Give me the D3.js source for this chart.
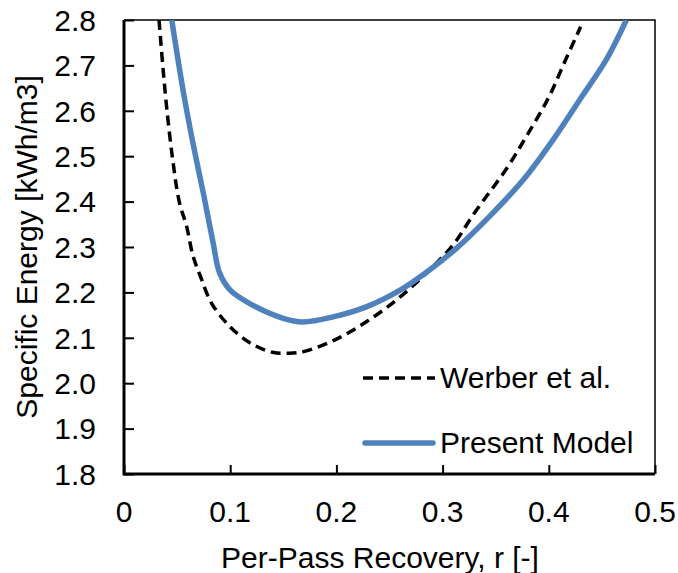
<!DOCTYPE html>
<html>
<head>
<meta charset="utf-8">
<script src="https://cdn.jsdelivr.net/npm/d3@7"></script>
<style>
  body { margin: 0; background: #fff; }
  svg text { font-family: "Liberation Sans", Arial, sans-serif; fill: #000; }
</style>
</head>
<body>
<div id="chart"></div>
<script>
// Werber et al. (dashed)
const werberR = [0.033, 0.0365, 0.0405, 0.046, 0.052, 0.059, 0.065, 0.072, 0.0825, 0.100, 0.120, 0.140, 0.155, 0.170, 0.200, 0.230, 0.260, 0.288, 0.310, 0.330, 0.360, 0.380, 0.400, 0.415, 0.430];
const werberE = [2.800, 2.700, 2.600, 2.490, 2.400, 2.345, 2.280, 2.235, 2.176, 2.124, 2.087, 2.068, 2.066, 2.070, 2.097, 2.138, 2.190, 2.250, 2.305, 2.375, 2.472, 2.548, 2.630, 2.708, 2.785];

// Present Model (solid blue)
const modelR = [0.045, 0.056, 0.065, 0.075, 0.084, 0.090, 0.100, 0.118, 0.150, 0.168, 0.197, 0.228, 0.260, 0.288, 0.313, 0.344, 0.376, 0.404, 0.429, 0.454, 0.473];
const modelE = [2.800, 2.640, 2.528, 2.415, 2.308, 2.243, 2.205, 2.176, 2.143, 2.135, 2.146, 2.168, 2.205, 2.250, 2.297, 2.367, 2.448, 2.536, 2.624, 2.712, 2.800];

const xTicks = [0, 0.1, 0.2, 0.3, 0.4, 0.5];
const yTicks = [1.8, 1.9, 2.0, 2.1, 2.2, 2.3, 2.4, 2.5, 2.6, 2.7, 2.8];
const legendLabels = ['Werber et al.', 'Present Model'];

const width = 678, height = 573;
const margin = {top: 20, right: 23, bottom: 99, left: 124};
const innerW = width - margin.left - margin.right;
const innerH = height - margin.top - margin.bottom;
const fontSize = 30;

const svg = d3.select('#chart').append('svg')
    .attr('width', width)
    .attr('height', height);

const g = svg.append('g')
    .attr('transform', `translate(${margin.left},${margin.top})`);

const x = d3.scaleLinear().domain([0, 0.5]).range([0, innerW]);
const y = d3.scaleLinear().domain([1.8, 2.8]).range([innerH, 0]);

g.append('clipPath').attr('id', 'plotClip')
    .append('rect').attr('width', innerW).attr('height', innerH);

// frame top/right
g.append('path')
    .attr('d', `M0,0H${innerW}V${innerH}`)
    .attr('fill', 'none')
    .attr('stroke', '#000')
    .attr('stroke-width', 1.5);

// y axis, ticks pointing inward
const yAxis = g.append('g')
    .call(d3.axisRight(y).tickValues(yTicks).tickSize(10).tickFormat(''));
yAxis.select('.domain').remove();
yAxis.selectAll('line').attr('stroke', '#000').attr('stroke-width', 2);

g.selectAll('.ylab')
    .data(yTicks)
    .join('text')
    .attr('class', 'ylab')
    .attr('x', -28)
    .attr('y', d => y(d))
    .attr('dy', '0.36em')
    .attr('text-anchor', 'end')
    .style('font-size', fontSize + 'px')
    .text(d => d.toFixed(1));

// x axis, ticks pointing inward
const xAxis = g.append('g')
    .attr('transform', `translate(0,${innerH})`)
    .call(d3.axisTop(x).tickValues(xTicks).tickSize(9).tickFormat(''));
xAxis.select('.domain').remove();
xAxis.selectAll('line').attr('stroke', '#000').attr('stroke-width', 2);

g.selectAll('.xlab')
    .data(xTicks)
    .join('text')
    .attr('class', 'xlab')
    .attr('x', d => x(d))
    .attr('y', innerH + 48)
    .attr('text-anchor', 'middle')
    .style('font-size', fontSize + 'px')
    .text(d => d === 0 ? '0' : d.toFixed(1));

// left and bottom axis lines
g.append('path')
    .attr('d', `M0,0V${innerH}H${innerW}`)
    .attr('fill', 'none')
    .attr('stroke', '#000')
    .attr('stroke-width', 3);

// axis titles
svg.append('text')
    .attr('x', 380)
    .attr('y', 568)
    .attr('text-anchor', 'middle')
    .style('font-size', fontSize + 'px')
    .text('Per-Pass Recovery, r [-]');

svg.append('text')
    .attr('transform', `translate(37,${margin.top + innerH / 2}) rotate(-90)`)
    .attr('text-anchor', 'middle')
    .style('font-size', fontSize + 'px')
    .text('Specific Energy [kWh/m3]');

// series
const line = d3.line()
    .x(d => x(d[0]))
    .y(d => y(d[1]))
    .curve(d3.curveCatmullRom.alpha(0.5));

const plot = g.append('g').attr('clip-path', 'url(#plotClip)');

plot.append('path')
    .datum(werberR.map((r, i) => [r, werberE[i]]))
    .attr('d', line)
    .attr('fill', 'none')
    .attr('stroke', '#000')
    .attr('stroke-width', 3.5)
    .attr('stroke-dasharray', '10,6');

plot.append('path')
    .datum(modelR.map((r, i) => [r, modelE[i]]))
    .attr('d', line)
    .attr('fill', 'none')
    .attr('stroke', '#4F81BD')
    .attr('stroke-width', 5.5);

// legend
const legend = svg.append('g');
const legendY = [378, 443];

legend.append('line')
    .attr('x1', 363).attr('x2', 435)
    .attr('y1', legendY[0]).attr('y2', legendY[0])
    .attr('stroke', '#000')
    .attr('stroke-width', 3.5)
    .attr('stroke-dasharray', '10,6');

legend.append('line')
    .attr('x1', 365).attr('x2', 433)
    .attr('y1', legendY[1]).attr('y2', legendY[1])
    .attr('stroke', '#4F81BD')
    .attr('stroke-width', 5.5)
    .attr('stroke-linecap', 'round');

legend.selectAll('.legtxt')
    .data(legendLabels)
    .join('text')
    .attr('class', 'legtxt')
    .attr('x', 440)
    .attr('y', (d, i) => legendY[i] - 1)
    .attr('dy', '0.36em')
    .style('font-size', fontSize + 'px')
    .text(d => d);
</script>
</body>
</html>
